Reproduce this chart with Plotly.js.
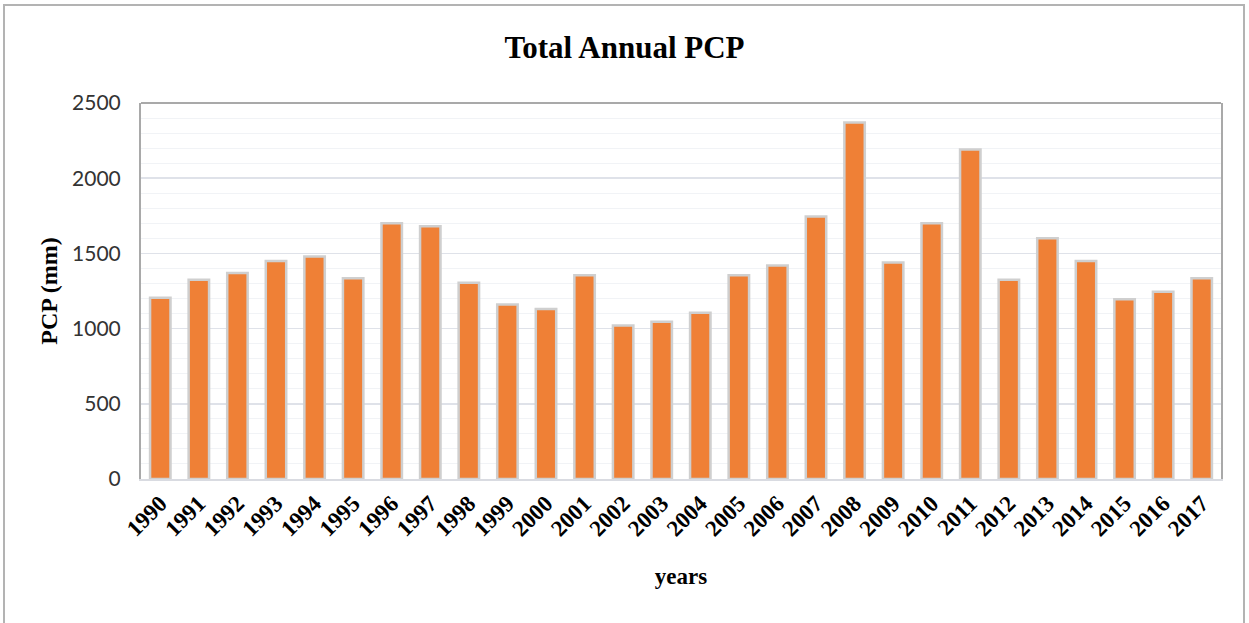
<!DOCTYPE html>
<html>
<head>
<meta charset="utf-8">
<script src="https://cdn.plot.ly/plotly-3.0.1.min.js"></script>
<style>
  html, body { margin: 0; padding: 0; background: #fff; }
  #wrap { position: relative; width: 1249px; height: 623px; }
  #chart { width: 1249px; height: 623px; }
  #frame { position: absolute; left: 3px; top: 4px; width: 1242px; height: 625px;
           border: 2px solid #b3b3b3; box-sizing: border-box; pointer-events: none; }
</style>
</head>
<body>
<div id="wrap">
  <div id="chart"></div>
  <div id="frame"></div>
</div>
<script>
const years = ['1990','1991','1992','1993','1994','1995','1996','1997','1998','1999',
               '2000','2001','2002','2003','2004','2005','2006','2007','2008','2009',
               '2010','2011','2012','2013','2014','2015','2016','2017'];
const pcp = [1205, 1325, 1370, 1450, 1480, 1335, 1700, 1680, 1305, 1160,
             1130, 1355, 1020, 1045, 1105, 1355, 1420, 1745, 2370, 1440,
             1700, 2190, 1325, 1600, 1450, 1195, 1245, 1335];
const yTicks = [0, 500, 1000, 1500, 2000, 2500];

const trace = {
  type: 'bar',
  x: years,
  y: pcp,
  marker: {
    color: '#ef8036',
    line: { color: '#cfcfcf', width: 2.5 }
  },
  hoverinfo: 'x+y'
};

const layout = {
  width: 1249,
  height: 623,
  margin: { l: 141, r: 28, t: 103, b: 144 },
  paper_bgcolor: '#ffffff',
  plot_bgcolor: '#ffffff',
  bargap: 0.47,
  showlegend: false,
  title: {
    text: '<b>Total Annual PCP</b>',
    x: 0.5, xanchor: 'center',
    y: 0.925, yanchor: 'middle',
    font: { family: 'Liberation Serif', size: 31, color: '#000000' }
  },
  xaxis: {
    type: 'category',
    tickangle: -45,
    tickfont: { family: 'Liberation Serif', size: 23, color: '#000000', weight: 'bold' },
    showline: true, linecolor: '#d9dbe1', linewidth: 2,
    ticks: '',
    showgrid: false,
    title: {
      text: '<b>years</b>',
      font: { family: 'Liberation Serif', size: 23, color: '#000000' },
      standoff: 28
    }
  },
  yaxis: {
    range: [0, 2500],
    tickvals: yTicks,
    ticktext: yTicks.map(String),
    tickfont: { family: 'Lato', size: 21, color: '#333333' },
    ticklabelstandoff: 14,
    ticks: '',
    showgrid: true, gridcolor: '#dfe2e9', gridwidth: 1.5,
    minor: { dtick: 100, showgrid: true, gridcolor: '#f1f3f6', gridwidth: 1 },
    zeroline: false,
    showline: true, linecolor: '#a9a9a9', linewidth: 2, mirror: true,
    title: {
      text: '<b>PCP (mm)</b>',
      font: { family: 'Liberation Serif', size: 24, color: '#000000' },
      standoff: 8
    }
  },
  shapes: [{
    type: 'line', xref: 'paper', yref: 'paper',
    x0: 0, x1: 1, y0: 1, y1: 1,
    line: { color: '#a9a9a9', width: 2 }
  }]
};

Plotly.newPlot('chart', [trace], layout, { displayModeBar: false, staticPlot: true });
</script>
</body>
</html>
